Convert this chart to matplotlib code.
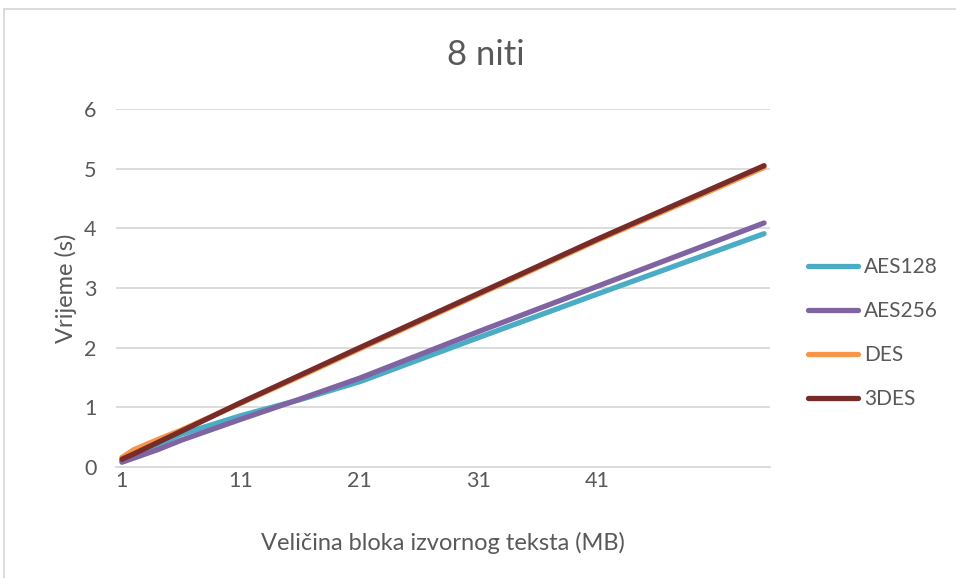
import matplotlib
matplotlib.use("Agg")
import matplotlib.pyplot as plt
from matplotlib.patches import Rectangle

sizes = [1, 2, 4, 6, 11, 16, 21, 31, 41, 55]
aes128 = [0.10, 0.17, 0.37, 0.55, 0.86, 1.13, 1.43, 2.17, 2.90, 3.91]
aes256 = [0.08, 0.15, 0.29, 0.45, 0.80, 1.14, 1.49, 2.27, 3.03, 4.09]
des = [0.16, 0.29, 0.46, 0.62, 1.07, 1.52, 1.98, 2.89, 3.80, 5.02]
des3 = [0.13, 0.22, 0.41, 0.60, 1.08, 1.54, 2.00, 2.91, 3.82, 5.05]
series_names = ["AES128", "AES256", "DES", "3DES"]
colors = ["#4BACC6", "#8064A2", "#F79646", "#772C2A"]
xticks = [1, 11, 21, 31, 41]
yticks = [0, 1, 2, 3, 4, 5, 6]

plt.rcParams['font.family'] = ['Lato', 'DejaVu Sans']
fig = plt.figure(figsize=(9.56, 5.78), dpi=100)
ax = fig.add_axes([116/956, 1-467/578, (770-116)/956, (467-109)/578])

for name, vals, c in zip(series_names, [aes128, aes256, des, des3], colors):
    ax.plot(sizes, vals, color=c, lw=3.8, solid_capstyle='round', solid_joinstyle='round', label=name)

ax.set_xlim(0.5, 55.5)
ax.set_ylim(0, 6)
ax.set_xticks(xticks)
ax.set_yticks(yticks)
ax.grid(axis='y', color='#D9D9D9', lw=1.3)
ax.set_axisbelow(True)
for s in ['top', 'right', 'left']:
    ax.spines[s].set_visible(False)
ax.spines['bottom'].set_color('#D9D9D9')
ax.spines['bottom'].set_linewidth(1.3)
ax.tick_params(length=0, labelsize=15.5, colors='#595959', pad=3)
ax.tick_params(axis='y', pad=14)

ax.set_xlabel("Veličina bloka izvornog teksta (MB)", fontsize=17, color='#595959', labelpad=29)
ax.set_ylabel("Vrijeme (s)", fontsize=17, color='#595959', labelpad=5)
fig.text(486/956, 1-55/578, "8 niti", fontsize=25, color='#595959', ha='center', va='center')

leg = fig.legend(loc='center left', bbox_to_anchor=(808/956, 1-333/578), frameon=False,
                 borderpad=0, borderaxespad=0,
                 fontsize=15, handlelength=2.4, labelspacing=1.15, handletextpad=0.3, labelcolor='#595959')

fig.patches.append(Rectangle((4/956, -0.1), 1.2, 1-9/578+0.1, transform=fig.transFigure,
                             fill=False, edgecolor='#D9D9D9', lw=1.3))

fig.savefig("out.png", dpi=100)
